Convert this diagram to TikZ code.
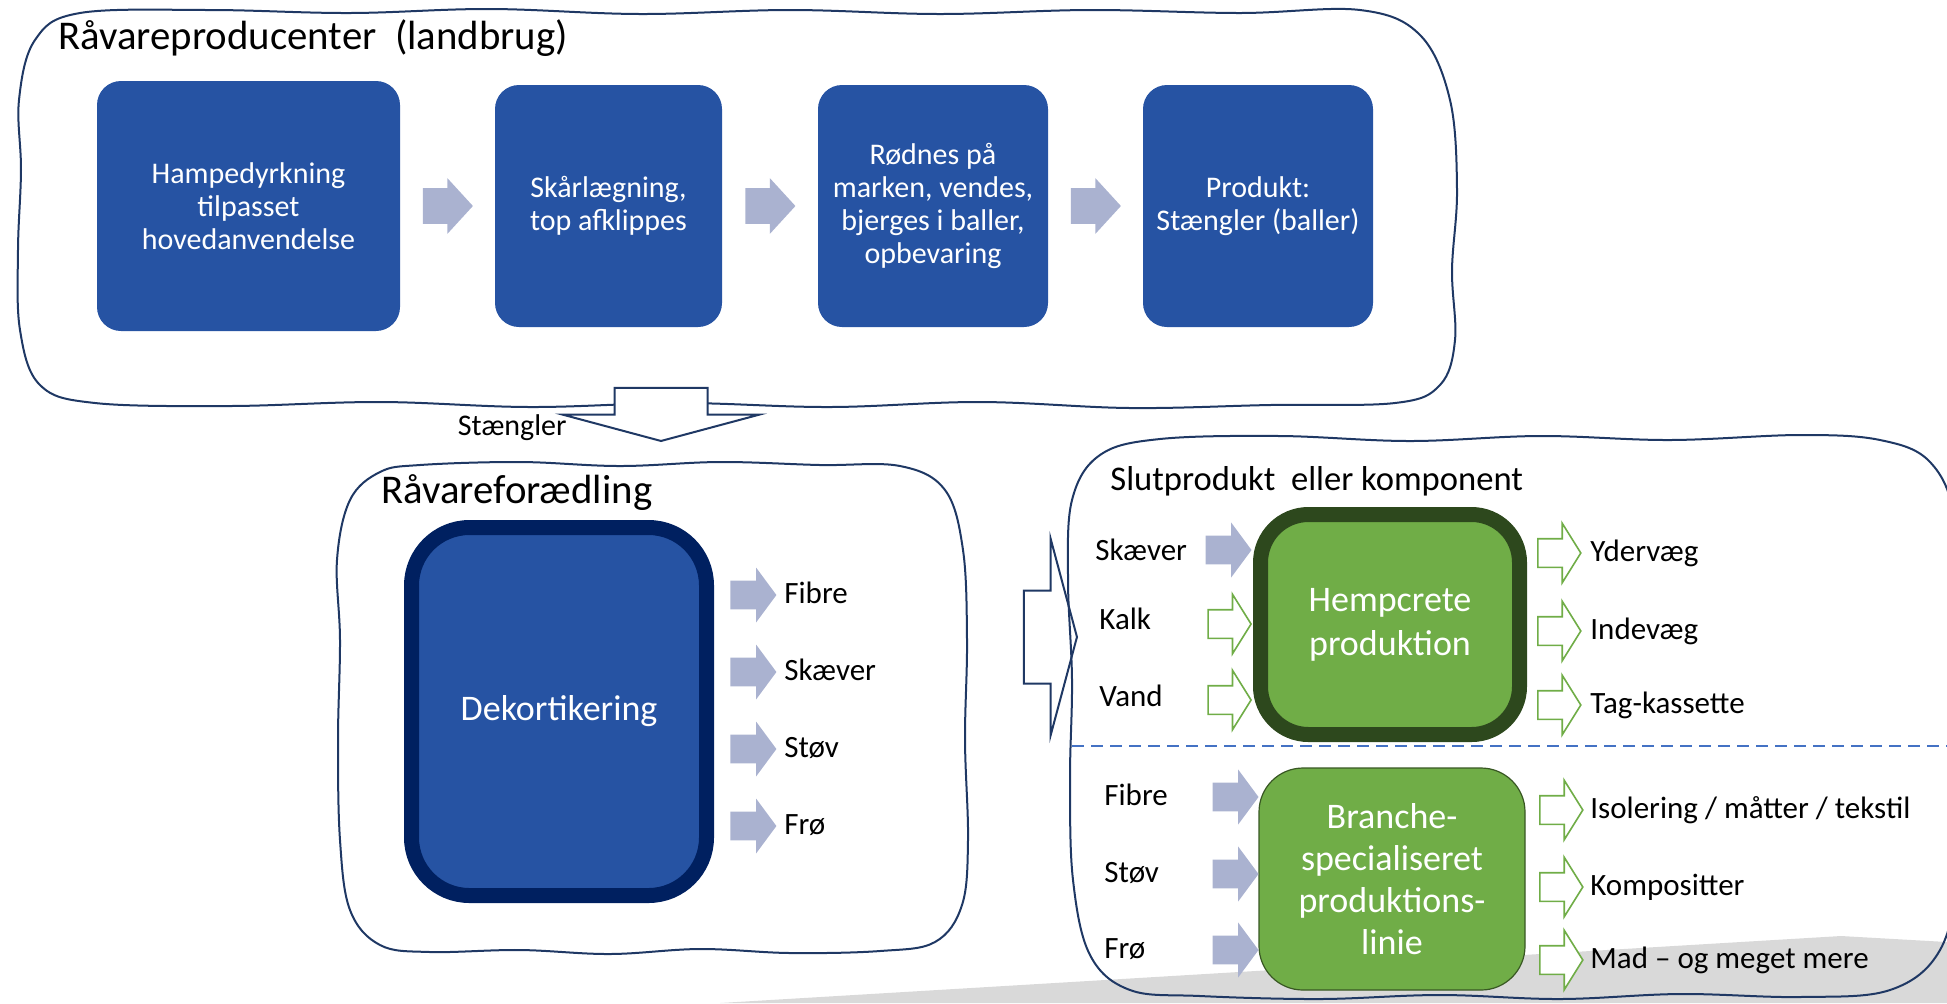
\documentclass[tikz,border=0pt]{standalone}
\usepackage{fontspec}
\setmainfont{Carlito}
\usetikzlibrary{shapes.arrows,calc}
\definecolor{boxBlue}{RGB}{38,83,163}
\definecolor{deepNavy}{RGB}{0,32,96}
\definecolor{frameNavy}{RGB}{31,56,100}
\definecolor{arrowGray}{RGB}{170,178,208}
\definecolor{hempGreen}{RGB}{112,173,71}
\definecolor{darkGreen}{RGB}{45,72,29}
\definecolor{lineGreen}{RGB}{56,87,35}
\definecolor{sepBlue}{RGB}{68,114,196}
\definecolor{shadeGray}{RGB}{217,217,217}

\tikzset{
  stepbox/.style={rectangle, rounded corners=12pt, fill=boxBlue, text=white, align=center, inner sep=0pt, font=\fontsize{15}{16.4}\selectfont},
  grayarrow/.style={single arrow, fill=arrowGray, inner xsep=0pt, inner ysep=7pt, minimum height=23pt, minimum width=27pt, single arrow head extend=6.5pt, single arrow tip angle=107},
  toparrow/.style={grayarrow, inner ysep=8.75pt, minimum height=25pt, minimum width=27.5pt, single arrow head extend=5pt, single arrow tip angle=95},
  greenarrow/.style={single arrow, draw=hempGreen, line width=0.8pt, fill=white, inner xsep=0pt, inner ysep=6.75pt, minimum height=21.5pt, minimum width=29pt, single arrow head extend=7.75pt, single arrow tip angle=116},
  bigarrow/.style={single arrow, draw=frameNavy, line width=1pt, inner xsep=0pt, inner ysep=22.75pt, minimum height=26.5pt, minimum width=97.5pt, single arrow head extend=26pt, single arrow tip angle=150},
  wavyframe/.style={draw=frameNavy, line width=1pt},
  headtext/.style={anchor=west, inner sep=0pt, font=\fontsize{20.4}{24}\selectfont},
  itemtext/.style={anchor=west, inner sep=0pt, font=\fontsize{15.5}{18}\selectfont, text height=11pt, text depth=3pt},
}

\begin{document}
\begin{tikzpicture}[x=0.5pt, y=-0.5pt]
  \useasboundingbox (0,0) rectangle (1947,1003);
  \clip (0,0) rectangle (1947,1003);

  % page shadow
  \fill[shadeGray] (720,1003) -- (1841,936) -- (1947,942) -- (1947,1003) -- cycle;

  % hand drawn frames
  \draw[wavyframe] plot[smooth cycle, tension=0.6] coordinates {(80,13) (210,10) (350,13) (490,9) (640,14) (790,10) (940,14) (1090,10) (1240,13) (1360,10) (1420,35) (1450,100) (1457,190) (1452,270) (1455,340) (1440,385) (1395,403) (1270,405) (1130,408) (980,402) (830,407) (680,403) (530,407) (380,402) (230,406) (95,403) (40,385) (20,330) (18,250) (21,170) (19,100) (35,40)};
  \draw[wavyframe] plot[smooth cycle, tension=0.6] coordinates {(420,465) (520,462) (620,466) (720,462) (820,465) (900,466) (945,490) (963,550) (967,640) (965,740) (968,840) (962,905) (935,942) (880,951) (790,953) (700,949) (610,954) (520,950) (430,952) (380,945) (350,910) (340,840) (338,740) (340,640) (337,560) (350,500) (380,472)};

  % farm stage
  \node[headtext] (farmTitle) at (58,38) {Råvareproducenter~ (landbrug)};
  \node[stepbox, minimum width=151.5pt, minimum height=125pt] (grow) at (248.5,206) {Hampedyrkning\\tilpasset\\hovedanvendelse};
  \node[stepbox, minimum width=113.5pt, minimum height=121pt] (cut) at (608.5,206) {Skårlægning,\\top afklippes};
  \node[stepbox, minimum width=115pt, minimum height=121pt] (ret) at (933,206) {Rødnes på\\marken, vendes,\\bjerges i baller,\\opbevaring};
  \node[stepbox, minimum width=115pt, minimum height=121pt] (bales) at (1258,206) {Produkt:\\Stængler (baller)};
  \node[toparrow, anchor=tail] (a1) at ($(grow.east)!0.5!(cut.west)+(-25,0)$) {};
  \node[toparrow, anchor=tail] (a2) at ($(cut.east)!0.5!(ret.west)+(-25,0)$) {};
  \node[toparrow, anchor=tail] (a3) at ($(ret.east)!0.5!(bales.west)+(-25,0)$) {};

  \node[bigarrow, fill=white, rotate=-90, anchor=tip] (down) at (661,442) {};
  \node[anchor=east, inner sep=0pt, font=\fontsize{15}{18}\selectfont] (stems) at (567,428) {Stængler};

  % refining stage
  \node[headtext] (refineTitle) at (381,493) {Råvareforædling};
  \node[draw=deepNavy, line width=7.5pt, fill=boxBlue, rounded corners=29pt, minimum width=147.5pt, minimum height=184pt, text=white, inner sep=0pt, font=\fontsize{18}{21}\selectfont] (decort) at (559,711.5) {Dekortikering};
  \foreach \y/\name/\txt in {595/fib/Fibre, 672/shiv/Skæver, 749/dust/Støv, 826/seed/Frø} {
    \node[grayarrow, anchor=tail] (out-\name) at (730,\y) {};
    \node[itemtext] (lab-\name) at (784,\y) {\txt};
  }

  \node[bigarrow, anchor=tip] (across) at (1078,637) {};

  % product stage
  \draw[wavyframe] plot[smooth cycle, tension=0.6] coordinates {(1160,439) (1280,436) (1410,441) (1540,436) (1670,440) (1800,435) (1880,440) (1930,462) (1955,520) (1960,640) (1957,760) (1958,870) (1940,950) (1890,990) (1800,997) (1680,994) (1560,999) (1440,995) (1320,999) (1200,996) (1130,990) (1090,955) (1073,880) (1070,780) (1072,680) (1068,580) (1072,500) (1100,455)};
  \node[headtext, font=\fontsize{17.3}{20}\selectfont] (prodTitle) at (1110,481) {Slutprodukt~ eller komponent};
  \draw[sepBlue, line width=1.3pt, dash pattern=on 6pt off 3.5pt] (1072,746) -- (1947,746);

  \node[draw=darkGreen, line width=7.5pt, fill=hempGreen, rounded corners=24pt, minimum width=129.5pt, minimum height=110pt, text=white, align=center, inner sep=0pt, font=\fontsize{18}{22}\selectfont] (hemp) at (1390,624.5) {Hempcrete\\produktion};
  \node[draw=lineGreen, line width=0.6pt, fill=hempGreen, rounded corners=22pt, minimum width=133pt, minimum height=111pt, text=white, align=center, inner sep=0pt, font=\fontsize{18}{21}\selectfont] (branch) at (1392,879) {Branche-\\specialiseret\\produktions-\\linie};

  \node[itemtext] (in-shiv) at (1095,552) {Skæver};
  \node[grayarrow, anchor=tip] (ia-shiv) at (1252,550) {};
  \node[itemtext] (in-lime) at (1099,621) {Kalk};
  \node[greenarrow, anchor=tip] (ia-lime) at (1252,624) {};
  \node[itemtext] (in-water) at (1099,698) {Vand};
  \node[greenarrow, anchor=tip] (ia-water) at (1252,700) {};
  \foreach \y/\name/\txt in {553/outer/Ydervæg, 631/inner/Indevæg, 705/roof/Tag-kassette} {
    \node[greenarrow, anchor=tail] (oa-\name) at (1537,\y) {};
    \node[itemtext] (out-\name) at (1590,\y) {\txt};
  }

  \foreach \y/\name/\txt in {797/fib/Fibre, 874/dust/Støv, 950/seed/Frø} {
    \node[itemtext] (bin-\name) at (1104,\y) {\txt};
    \node[grayarrow, anchor=tip] (ba-\name) at (1259,\y) {};
  }
  \foreach \y/\name/\txt in {810/insul/{Isolering / måtter / tekstil}, 887/comp/Kompositter, 960/food/{Mad – og meget mere}} {
    \node[greenarrow, anchor=tail] (boa-\name) at (1539,\y) {};
    \node[itemtext] (bout-\name) at (1590,\y) {\txt};
  }
\end{tikzpicture}
\end{document}
